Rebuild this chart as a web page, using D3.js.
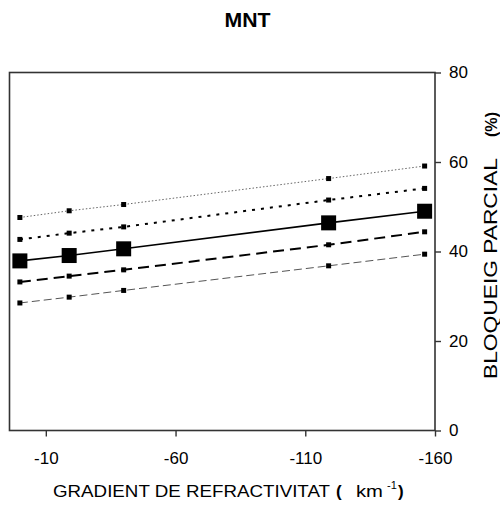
<!DOCTYPE html>
<html>
<head>
<meta charset="utf-8">
<script src="https://cdn.jsdelivr.net/npm/d3@7"></script>
<style>
html,body{margin:0;padding:0;background:#fff;}
svg{display:block;font-family:"Liberation Sans",Arial,sans-serif;}
</style>
</head>
<body>
<svg id="chart" width="500" height="505"></svg>
<script>
// ---- data ----
const gradients = [0, -19, -40, -119, -156];
const serieTop = [47.6, 49.1, 50.5, 56.3, 59.1];
const serieUpper = [42.7, 44.1, 45.5, 51.5, 54.1];
const serieMain = [37.9, 39.1, 40.6, 46.4, 49.0];
const serieLower = [33.2, 34.5, 35.9, 41.5, 44.4];
const serieBottom = [28.5, 29.8, 31.3, 36.8, 39.4];
const xTicks = [-10, -60, -110, -160];
const yTicks = [0, 20, 40, 60, 80];
const title = "MNT";
const xTitle = "GRADIENT DE REFRACTIVITAT";
const yTitle = "BLOQUEIG PARCIAL";

const svg = d3.select("#chart");
const L = 9.5, R = 435, T = 72.5, B = 430.5;
const x = d3.scaleLinear().domain([4, -160]).range([L, R]);
const y = d3.scaleLinear().domain([0, 80]).range([B, T]);

const series = [
  {v: serieTop,    stroke: "#666", width: 1,   dash: "1.5,2", mk: 5},
  {v: serieUpper,  stroke: "#000", width: 2,   dash: "3,6",   mk: 5},
  {v: serieMain,   stroke: "#000", width: 1.6, dash: null,    mk: 15},
  {v: serieLower,  stroke: "#000", width: 2,   dash: "11,6",  mk: 5},
  {v: serieBottom, stroke: "#555", width: 1,   dash: "8,4",   mk: 5}
];

const line = d3.line().x(d => x(d[0])).y(d => y(d[1]));
series.forEach(s => {
  const pts = gradients.map((g, i) => [g, s.v[i]]);
  svg.append("path").datum(pts)
    .attr("fill", "none").attr("stroke", s.stroke)
    .attr("stroke-width", s.width)
    .attr("stroke-dasharray", s.dash)
    .attr("d", line);
  svg.selectAll(null).data(pts).enter().append("rect")
    .attr("x", d => x(d[0]) - s.mk / 2).attr("y", d => y(d[1]) - s.mk / 2)
    .attr("width", s.mk).attr("height", s.mk).attr("fill", "#000");
});

// frame
svg.append("rect").attr("x", L).attr("y", T).attr("width", R - L).attr("height", B - T)
  .attr("fill", "none").attr("stroke", "#333").attr("stroke-width", 1.6);

// right axis
const yAxis = svg.append("g").attr("transform", `translate(${R},0)`)
  .call(d3.axisRight(y).tickValues(yTicks).tickSize(6).tickPadding(8).tickFormat(d => String(d)));
yAxis.select(".domain").remove();
yAxis.selectAll("line").attr("stroke", "#333").attr("stroke-width", 1.4);
yAxis.selectAll("text").attr("font-size", 17).attr("fill", "#000")
  .attr("font-family", "Liberation Sans, Arial, sans-serif");

// bottom axis
const xAxis = svg.append("g").attr("transform", `translate(0,${B})`)
  .call(d3.axisBottom(x).tickValues(xTicks).tickSize(6).tickPadding(15).tickFormat(d => String(d)));
xAxis.select(".domain").remove();
xAxis.selectAll("line").attr("stroke", "#333").attr("stroke-width", 1.4);
xAxis.selectAll("text").attr("font-size", 17).attr("fill", "#000")
  .attr("font-family", "Liberation Sans, Arial, sans-serif");

// title
svg.append("text").attr("x", 247.5).attr("y", 26.5).attr("text-anchor", "middle")
  .attr("font-size", 20).attr("font-weight", "bold")
  .attr("textLength", 46).attr("lengthAdjust", "spacingAndGlyphs").text(title);

// x title
svg.append("text").attr("x", 53).attr("y", 497).attr("font-size", 17)
  .attr("textLength", 277).attr("lengthAdjust", "spacingAndGlyphs").text(xTitle);
svg.append("text").attr("x", 336).attr("y", 497).attr("font-size", 17).attr("font-weight", "bold").text("(");
svg.append("text").attr("x", 356).attr("y", 497).attr("font-size", 17)
  .attr("textLength", 27).attr("lengthAdjust", "spacingAndGlyphs").text("km");
svg.append("text").attr("x", 387).attr("y", 489).attr("font-size", 11).text("-1");
svg.append("text").attr("x", 398).attr("y", 497).attr("font-size", 17).attr("font-weight", "bold").text(")");

// y title (rotated)
svg.append("text").attr("transform", "translate(497,379) rotate(-90)")
  .attr("font-size", 19).attr("textLength", 221).attr("lengthAdjust", "spacingAndGlyphs").text(yTitle);
svg.append("text").attr("transform", "translate(497,137) rotate(-90)")
  .attr("font-size", 16).attr("font-weight", "bold")
  .attr("textLength", 25).attr("lengthAdjust", "spacingAndGlyphs").text("(%)");
</script>
</body>
</html>
